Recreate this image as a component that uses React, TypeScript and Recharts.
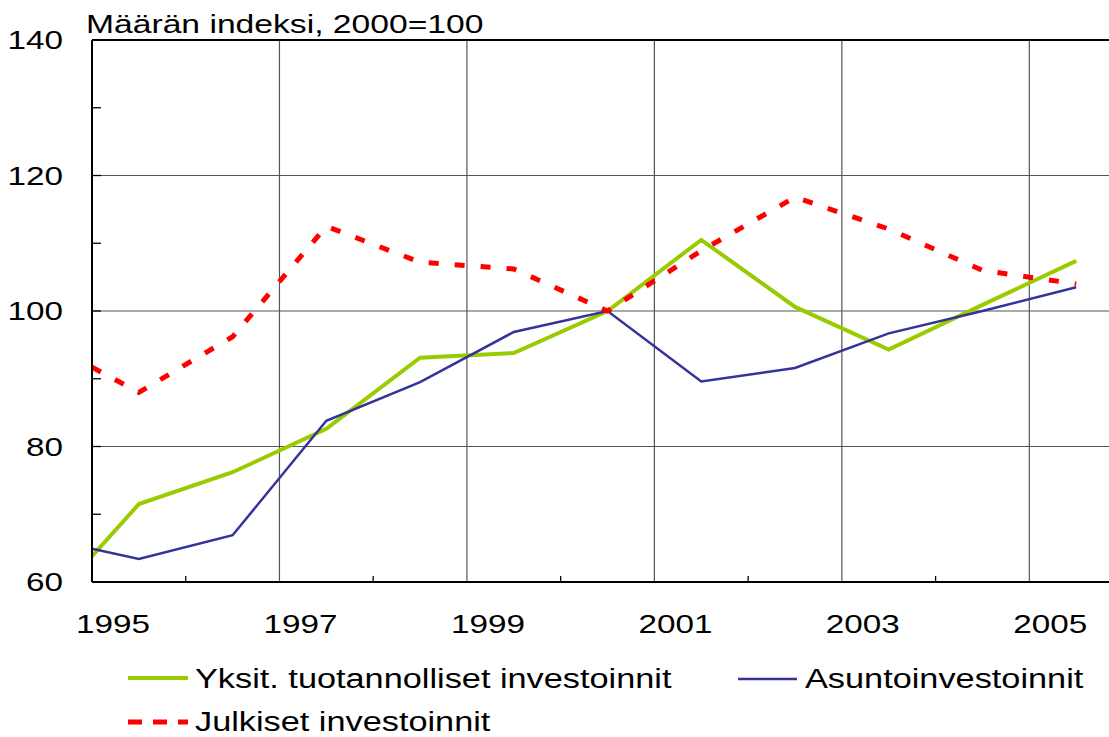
import React from 'react';
import { LineChart, Line, XAxis, YAxis, CartesianGrid, ReferenceLine } from 'recharts';

const xPositions = [1994.5, 1995, 1996, 1997, 1998, 1999, 2000, 2001, 2002, 2003, 2004, 2005];
const yksityiset = [63.8, 71.5, 76.2, 82.6, 93.1, 93.8, 100, 110.5, 100.6, 94.3, 100.9, 107.4];
const asunto = [64.9, 63.4, 66.9, 83.8, 89.5, 96.9, 100, 89.6, 91.6, 96.7, 100, 103.5];
const julkiset = [91.7, 88.0, 96.2, 112.5, 107.2, 106.2, 100, 108.9, 116.8, 112.1, 106.0, 104.0];

const seriesNames = ['Yksit. tuotannolliset investoinnit', 'Asuntoinvestoinnit', 'Julkiset investoinnit'];
const title = 'Määrän indeksi, 2000=100';

const xTicks = [1994.5, 1995.5, 1996.5, 1997.5, 1998.5, 1999.5, 2000.5, 2001.5, 2002.5, 2003.5, 2004.5];
const xTickLabels = ['1995', '', '1997', '', '1999', '', '2001', '', '2003', '', '2005'];
const xGridValues = [1996.5, 1998.5, 2000.5, 2002.5, 2004.5];
const yTicks = [60, 70, 80, 90, 100, 110, 120, 130, 140];
const yTickLabels = ['60', '', '80', '', '100', '', '120', '', '140'];
const yGridValues = [80, 100, 120];

const data = xPositions.map((x, i) => ({
  x,
  yks: yksityiset[i],
  asu: asunto[i],
  jul: julkiset[i],
}));

const FONT = '"Liberation Sans", Arial, sans-serif';
const SX = 1.28;
const GREEN = '#99cc00';
const BLUE = '#333399';
const RED = '#ff0000';

const XTick = (props: any) => {
  const { x, y, index } = props;
  const label = xTickLabels[index];
  return (
    <g>
      {!label && <line x1={x} x2={x} y1={y} y2={y - 6} stroke="#000" strokeWidth={1.3} />}
      {label && (
        <text
          transform={`translate(${x + 21},${y + 51}) scale(${SX},1)`}
          textAnchor="middle"
          fontFamily={FONT}
          fontSize={26}
          fill="#000"
        >
          {label}
        </text>
      )}
    </g>
  );
};

const YTick = (props: any) => {
  const { x, y, index } = props;
  const label = yTickLabels[index];
  return (
    <g>
      {index > 0 && <line x1={x} x2={x + 9} y1={y} y2={y} stroke="#000" strokeWidth={1.3} />}
      {label && (
        <text
          transform={`translate(${x - 29},${y + 9}) scale(${SX},1)`}
          textAnchor="end"
          fontFamily={FONT}
          fontSize={26}
          fill="#000"
        >
          {label}
        </text>
      )}
    </g>
  );
};

export default function App() {
  return (
    <div style={{ position: 'absolute', left: 0, top: 0, width: 1109, height: 737, background: '#fff' }}>
      <LineChart
        width={1109}
        height={737}
        data={data}
        margin={{ top: 40, right: 0, left: 0, bottom: 0 }}
      >
        <CartesianGrid
          stroke="#555"
          strokeWidth={1.2}
          horizontalValues={yGridValues}
          verticalValues={xGridValues}
        />
        <XAxis
          dataKey="x"
          type="number"
          domain={[1994.5, 2005.35]}
          allowDataOverflow
          ticks={xTicks}
          interval={0}
          height={155}
          tickSize={0}
          tickMargin={0}
          tickLine={false}
          axisLine={{ stroke: '#000', strokeWidth: 2 }}
          tick={(p: any) => <XTick {...p} />}
        />
        <YAxis
          type="number"
          domain={[60, 140]}
          ticks={yTicks}
          interval={0}
          width={92}
          tickSize={0}
          tickMargin={0}
          tickLine={false}
          axisLine={{ stroke: '#000', strokeWidth: 2 }}
          tick={(p: any) => <YTick {...p} />}
        />
        <ReferenceLine y={140} stroke="#000" strokeWidth={2} />
        <Line type="linear" dataKey="yks" stroke={GREEN} strokeWidth={4} dot={false} isAnimationActive={false} />
        <Line type="linear" dataKey="asu" stroke={BLUE} strokeWidth={2.5} dot={false} isAnimationActive={false} />
        <Line
          type="linear"
          dataKey="jul"
          stroke={RED}
          strokeWidth={5}
          strokeDasharray="10 16"
          dot={false}
          isAnimationActive={false}
        />
      </LineChart>
      <svg
        width={1109}
        height={737}
        style={{ position: 'absolute', left: 0, top: 0, pointerEvents: 'none' }}
      >
        <text transform={`translate(86,33) scale(${SX},1)`} fontFamily={FONT} fontSize={26.3} fill="#000">
          {title}
        </text>
        <line x1={128} x2={188} y1={678} y2={678} stroke={GREEN} strokeWidth={4} />
        <text transform={`translate(195,688) scale(${SX},1)`} fontFamily={FONT} fontSize={26.8} fill="#000">
          {seriesNames[0]}
        </text>
        <line x1={738} x2={797} y1={679} y2={679} stroke={BLUE} strokeWidth={2.5} />
        <text transform={`translate(805,688) scale(${SX},1)`} fontFamily={FONT} fontSize={26.8} fill="#000">
          {seriesNames[1]}
        </text>
        <line x1={128} x2={188} y1={722} y2={722} stroke={RED} strokeWidth={5} strokeDasharray="14 11" />
        <text transform={`translate(195,731) scale(${SX},1)`} fontFamily={FONT} fontSize={26.8} fill="#000">
          {seriesNames[2]}
        </text>
      </svg>
    </div>
  );
}
